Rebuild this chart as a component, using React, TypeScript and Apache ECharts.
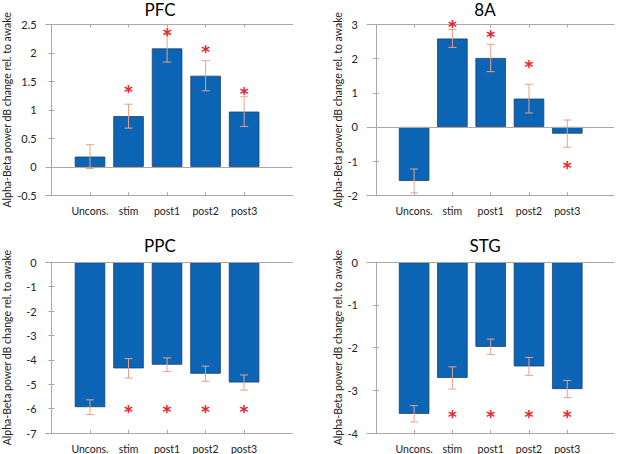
import React, { useEffect, useRef } from "react";
import * as echarts from "echarts";

const CATEGORIES = ["Uncons.", "stim", "post1", "post2", "post3"];
const POSITIONS = [1, 2, 3, 4, 5];
const Y_NAME = "Alpha-Beta power dB change rel. to awake";

const PFC_MEAN = [0.18, 0.89, 2.08, 1.6, 0.97];
const PFC_ERR = [0.21, 0.21, 0.24, 0.265, 0.26];
const PFC_STAR = [null, 1.4, 2.41, 2.1, 1.36];

const A8_MEAN = [-1.58, 2.59, 2.02, 0.83, -0.195];
const A8_ERR = [0.35, 0.26, 0.4, 0.42, 0.4];
const A8_STAR = [null, 3.06, 2.77, 1.89, -1.04];

const PPC_MEAN = [-5.94, -4.35, -4.2, -4.57, -4.93];
const PPC_ERR = [0.3, 0.4, 0.28, 0.31, 0.31];
const PPC_STAR = [null, -5.95, -5.95, -5.95, -5.95];

const STG_MEAN = [-3.55, -2.71, -1.98, -2.44, -2.97];
const STG_ERR = [0.19, 0.26, 0.18, 0.21, 0.2];
const STG_STAR = [null, -3.5, -3.5, -3.5, -3.5];

const PANELS = [
  { title: "PFC", mean: PFC_MEAN, err: PFC_ERR, star: PFC_STAR, yMin: -0.5, yMax: 2.5, yInt: 0.5 },
  { title: "8A", mean: A8_MEAN, err: A8_ERR, star: A8_STAR, yMin: -2, yMax: 3, yInt: 1 },
  { title: "PPC", mean: PPC_MEAN, err: PPC_ERR, star: PPC_STAR, yMin: -7, yMax: 0, yInt: 1 },
  { title: "STG", mean: STG_MEAN, err: STG_ERR, star: STG_STAR, yMin: -4, yMax: 0, yInt: 1 },
];

const LAYOUT = [
  { left: 45.7, top: 24.5, width: 247, height: 170.8, xMin: -0.15, xMax: 6.26, nameGap: 33, tx: 160, ty: 9.5 },
  { left: 367, top: 24.5, width: 247, height: 170.8, xMin: -0.23, xMax: 6.22, nameGap: 22, tx: 485, ty: 9.5 },
  { left: 45.7, top: 262.3, width: 246.5, height: 171.7, xMin: -0.15, xMax: 6.25, nameGap: 33, tx: 160, ty: 245.3 },
  { left: 367, top: 262.3, width: 247, height: 171.2, xMin: -0.23, xMax: 6.22, nameGap: 22, tx: 485, ty: 245.3 },
];

const FONT = "Lato";
const FRAME = "#a8a8a8";
const BAR = "#0b64b4";
const BAR_EDGE = "#1d3f70";
const ERR = "#e7a38a";
const STAR = "#e8262b";

export default function App() {
  const ref = useRef<HTMLDivElement>(null);
  useEffect(() => {
    if (!ref.current) return;
    const chart = echarts.init(ref.current, null, { renderer: "svg" });
    const grid: any[] = [];
    const xAxis: any[] = [];
    const yAxis: any[] = [];
    const series: any[] = [];
    const graphic: any[] = [];

    PANELS.forEach((p, i) => {
      const L = LAYOUT[i];
      grid.push({ left: L.left, top: L.top, width: L.width, height: L.height, containLabel: false });
      const axLine = { show: true, lineStyle: { color: FRAME, width: 1 } };
      xAxis.push({
        type: "value", gridIndex: i, position: "bottom", min: L.xMin, max: L.xMax,
        axisLine: { ...axLine, onZero: false },
        splitLine: { show: false },
        axisTick: { show: true, inside: true, length: 3, customValues: POSITIONS, lineStyle: { color: FRAME } },
        axisLabel: {
          show: true, customValues: POSITIONS, margin: 10, fontSize: 10.5, fontFamily: FONT, color: "#222",
          formatter: (v: number) => CATEGORIES[Math.round(v) - 1] ?? "",
        },
      });
      xAxis.push({
        type: "value", gridIndex: i, position: "top", min: L.xMin, max: L.xMax,
        axisLine: { ...axLine, onZero: false },
        splitLine: { show: false },
        axisTick: { show: true, inside: true, length: 3, customValues: POSITIONS, lineStyle: { color: FRAME } },
        axisLabel: { show: false },
      });
      yAxis.push({
        type: "value", gridIndex: i, position: "left", min: p.yMin, max: p.yMax, interval: p.yInt,
        axisLine: axLine, splitLine: { show: false },
        axisTick: { show: true, inside: true, length: 3, lineStyle: { color: FRAME } },
        axisLabel: { fontSize: 11, fontFamily: FONT, color: "#222", margin: 9 },
        name: Y_NAME, nameLocation: "middle", nameGap: L.nameGap,
        nameTextStyle: { fontSize: 10.5, fontFamily: FONT, color: "#222" },
      });
      yAxis.push({
        type: "value", gridIndex: i, position: "right", min: p.yMin, max: p.yMax, interval: p.yInt,
        axisLine: axLine, splitLine: { show: false },
        axisTick: { show: true, inside: true, length: 3, lineStyle: { color: FRAME } },
        axisLabel: { show: false },
      });
      const xi = i * 2;
      const yi = i * 2;
      series.push({
        type: "bar", xAxisIndex: xi, yAxisIndex: yi, barWidth: 30.5,
        data: POSITIONS.map((x, k) => [x, p.mean[k]]),
        itemStyle: { color: BAR, borderColor: BAR_EDGE, borderWidth: 0.8 },
        markLine: {
          silent: true, symbol: "none", label: { show: false },
          lineStyle: { color: FRAME, width: 1, type: "solid" },
          data: [{ yAxis: 0 }],
        },
        z: 2,
      });
      series.push({
        type: "custom", xAxisIndex: xi, yAxisIndex: yi, z: 3,
        data: POSITIONS.map((x, k) => [x, p.mean[k], p.err[k]]),
        renderItem: (_params: any, api: any) => {
          const x = api.value(0);
          const m = api.value(1);
          const e = api.value(2);
          const t = api.coord([x, m + e]);
          const b = api.coord([x, m - e]);
          const hw = 4;
          const st = { stroke: ERR, lineWidth: 1 };
          return {
            type: "group",
            children: [
              { type: "line", shape: { x1: t[0], y1: t[1], x2: b[0], y2: b[1] }, style: st },
              { type: "line", shape: { x1: t[0] - hw, y1: t[1], x2: t[0] + hw, y2: t[1] }, style: st },
              { type: "line", shape: { x1: b[0] - hw, y1: b[1], x2: b[0] + hw, y2: b[1] }, style: st },
            ],
          };
        },
      });
      series.push({
        type: "custom", xAxisIndex: xi, yAxisIndex: yi, z: 4,
        data: POSITIONS.map((x, k) => [x, p.star[k]]).filter((d) => d[1] !== null),
        renderItem: (_params: any, api: any) => {
          const c = api.coord([api.value(0), api.value(1)]);
          return {
            type: "text",
            x: c[0], y: c[1] + 5,
            style: { text: "*", fill: STAR, fontSize: 17, fontFamily: "DejaVu Sans", align: "center", verticalAlign: "middle", fontWeight: "bold" },
          };
        },
      });
      graphic.push({
        type: "text", x: L.tx, y: L.ty,
        style: { text: p.title, fill: "#000", fontSize: 17, fontFamily: FONT, align: "center", verticalAlign: "middle" },
      });
    });

    chart.setOption({
      animation: false,
      backgroundColor: "#fff",
      grid, xAxis, yAxis, series, graphic,
    });
    return () => chart.dispose();
  }, []);
  return <div ref={ref} style={{ position: "fixed", left: 0, top: 0, width: 617, height: 454 }} />;
}
